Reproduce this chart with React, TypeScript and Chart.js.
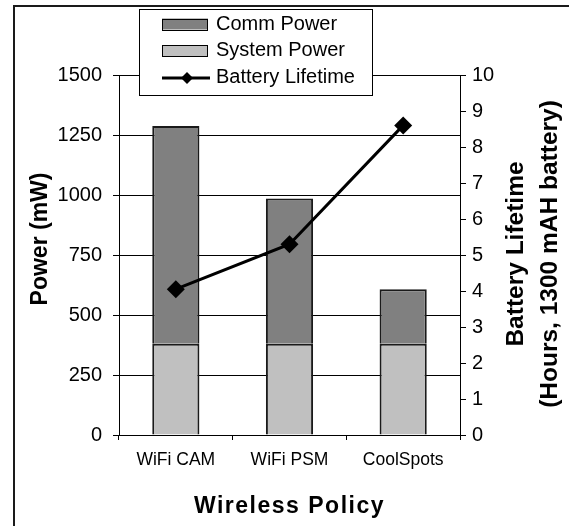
import React, { useEffect, useRef } from 'react';
import { Chart, registerables } from 'chart.js';

Chart.register(...registerables);

const categories = ['WiFi CAM', 'WiFi PSM', 'CoolSpots'];
const commPower = [907, 605, 227];
const systemPower = [380, 380, 380];
const batteryLifetime = [4.05, 5.3, 8.6];

const powerMax = 1500;
const powerStep = 250;
const lifetimeMax = 10;
const lifetimeStep = 1;

const seriesLabels = ['Comm Power', 'System Power', 'Battery Lifetime'];
const leftTitle = 'Power (mW)';
const rightTitleLines = ['Battery Lifetime', '(Hours, 1300 mAH battery)'];
const bottomTitle = 'Wireless Policy';

const FONT = "'Liberation Sans', Arial, sans-serif";
const COMM_COLOR = '#808080';
const SYSTEM_COLOR = '#c0c0c0';
const EDGE = '#1a1a1a';

const decorations = {
  id: 'decorations',
  afterDraw(chart: any) {
    const { ctx, chartArea } = chart;
    ctx.save();
    // outer frame
    ctx.fillStyle = '#1a1a1a';
    ctx.fillRect(13, 5, chart.width - 13, 2);
    ctx.fillRect(13, 5, 2, chart.height - 5);

    ctx.fillStyle = '#000';
    ctx.textAlign = 'center';
    ctx.textBaseline = 'alphabetic';

    // left title
    ctx.save();
    ctx.font = `bold 23px ${FONT}`;
    ctx.translate(46.5, 239);
    ctx.rotate(-Math.PI / 2);
    ctx.fillText(leftTitle, 0, 0);
    ctx.restore();

    // right title
    ctx.save();
    ctx.font = `bold 24.5px ${FONT}`;
    ctx.translate(523, 254);
    ctx.rotate(-Math.PI / 2);
    ctx.fillText(rightTitleLines[0], 0, 0);
    ctx.fillText(rightTitleLines[1], 0, 34);
    ctx.restore();

    // bottom title
    ctx.save();
    ctx.font = `bold 23px ${FONT}`;
    (ctx as any).letterSpacing = '1.5px';
    ctx.fillText(bottomTitle, (chartArea.left + chartArea.right) / 2, 513);
    (ctx as any).letterSpacing = '0px';
    ctx.restore();

    // legend
    const bx = 139.5, by = 9.5, bw = 233, bh = 86;
    ctx.fillStyle = '#fff';
    ctx.fillRect(bx, by, bw, bh);
    ctx.strokeStyle = '#000';
    ctx.lineWidth = 1;
    ctx.strokeRect(bx, by, bw, bh);

    const ds = chart.data.datasets;
    const byLabel = (l: string) => ds.find((d: any) => d.label === l);
    const rows = [24, 50.5, 77];
    const swX = 162, swW = 46, swH = 11;
    [byLabel(seriesLabels[0]), byLabel(seriesLabels[1])].forEach((d: any, i: number) => {
      const cy = rows[i];
      ctx.fillStyle = d.backgroundColor;
      ctx.fillRect(swX, cy - swH / 2, swW, swH);
      ctx.strokeStyle = '#000';
      ctx.lineWidth = 1;
      ctx.strokeRect(swX + 0.5, Math.round(cy - swH / 2) + 0.5, swW - 1, swH);
    });
    // line sample
    const ly = 78;
    ctx.strokeStyle = '#000';
    ctx.lineWidth = 3;
    ctx.beginPath();
    ctx.moveTo(162, ly);
    ctx.lineTo(210, ly);
    ctx.stroke();
    ctx.fillStyle = '#000';
    ctx.beginPath();
    const dcx = 187, dr = 6;
    ctx.moveTo(dcx, ly - dr);
    ctx.lineTo(dcx + dr, ly);
    ctx.lineTo(dcx, ly + dr);
    ctx.lineTo(dcx - dr, ly);
    ctx.closePath();
    ctx.fill();

    ctx.fillStyle = '#000';
    ctx.font = `20px ${FONT}`;
    ctx.textAlign = 'left';
    ctx.textBaseline = 'middle';
    seriesLabels.forEach((l, i) => ctx.fillText(l, 216, rows[i]));

    ctx.restore();
  },
};

export default function App() {
  const ref = useRef<HTMLCanvasElement | null>(null);

  useEffect(() => {
    if (!ref.current) return;
    const chart = new Chart(ref.current, {
      type: 'bar',
      data: {
        labels: categories,
        datasets: [
          {
            type: 'bar',
            label: seriesLabels[1],
            data: systemPower,
            backgroundColor: SYSTEM_COLOR,
            borderColor: EDGE,
            borderWidth: 2,
            yAxisID: 'y',
            stack: 'power',
            order: 1,
            categoryPercentage: 1,
            barPercentage: 0.415,
          },
          {
            type: 'bar',
            label: seriesLabels[0],
            data: commPower,
            backgroundColor: COMM_COLOR,
            borderColor: EDGE,
            borderWidth: 2,
            yAxisID: 'y',
            stack: 'power',
            order: 2,
            categoryPercentage: 1,
            barPercentage: 0.415,
          },
          {
            type: 'line',
            label: seriesLabels[2],
            data: batteryLifetime,
            borderColor: '#000',
            borderWidth: 3,
            backgroundColor: '#000',
            pointStyle: 'rectRot',
            pointRadius: 9,
            pointBackgroundColor: '#000',
            pointBorderColor: '#000',
            pointBorderWidth: 0,
            yAxisID: 'y1',
            order: 0,
            tension: 0,
          },
        ],
      } as any,
      options: {
        animation: false,
        responsive: false,
        devicePixelRatio: 1,
        layout: { padding: { top: 75, left: 0, right: 0, bottom: 0 } },
        plugins: {
          legend: { display: false },
          title: { display: false },
          tooltip: { enabled: false },
        },
        scales: {
          x: {
            stacked: true,
            grid: {
              display: true,
              drawOnChartArea: false,
              drawTicks: true,
              tickLength: 5,
              color: '#000',
              offset: true,
            },
            border: { display: true, color: '#000', width: 1 },
            ticks: { font: { size: 17.5, family: FONT }, color: '#000', padding: 10 },
            afterFit: (s: any) => {
              s.height = 91;
            },
          },
          y: {
            position: 'left',
            stacked: true,
            min: 0,
            max: powerMax,
            ticks: {
              stepSize: powerStep,
              font: { size: 20, family: FONT },
              color: '#000',
              padding: 11,
              callback: (v: any) => String(v),
            },
            grid: { color: '#000', tickLength: 6, drawTicks: true, lineWidth: 1 },
            border: { display: true, color: '#000', width: 1 },
            afterFit: (s: any) => {
              s.width = 119;
            },
          },
          y1: {
            position: 'right',
            min: 0,
            max: lifetimeMax,
            ticks: {
              stepSize: lifetimeStep,
              font: { size: 20, family: FONT },
              color: '#000',
              padding: 6,
              callback: (v: any) => String(v),
            },
            grid: { drawOnChartArea: false, color: '#000', tickLength: 6, drawTicks: true },
            border: { display: true, color: '#000', width: 1 },
            afterFit: (s: any) => {
              s.width = 109;
            },
          },
        },
      } as any,
      plugins: [decorations],
    });
    return () => chart.destroy();
  }, []);

  return (
    <div style={{ position: 'fixed', left: 0, top: 0, width: 569, height: 526, background: '#fff' }}>
      <canvas ref={ref} width={569} height={526} style={{ display: 'block' }} />
    </div>
  );
}
